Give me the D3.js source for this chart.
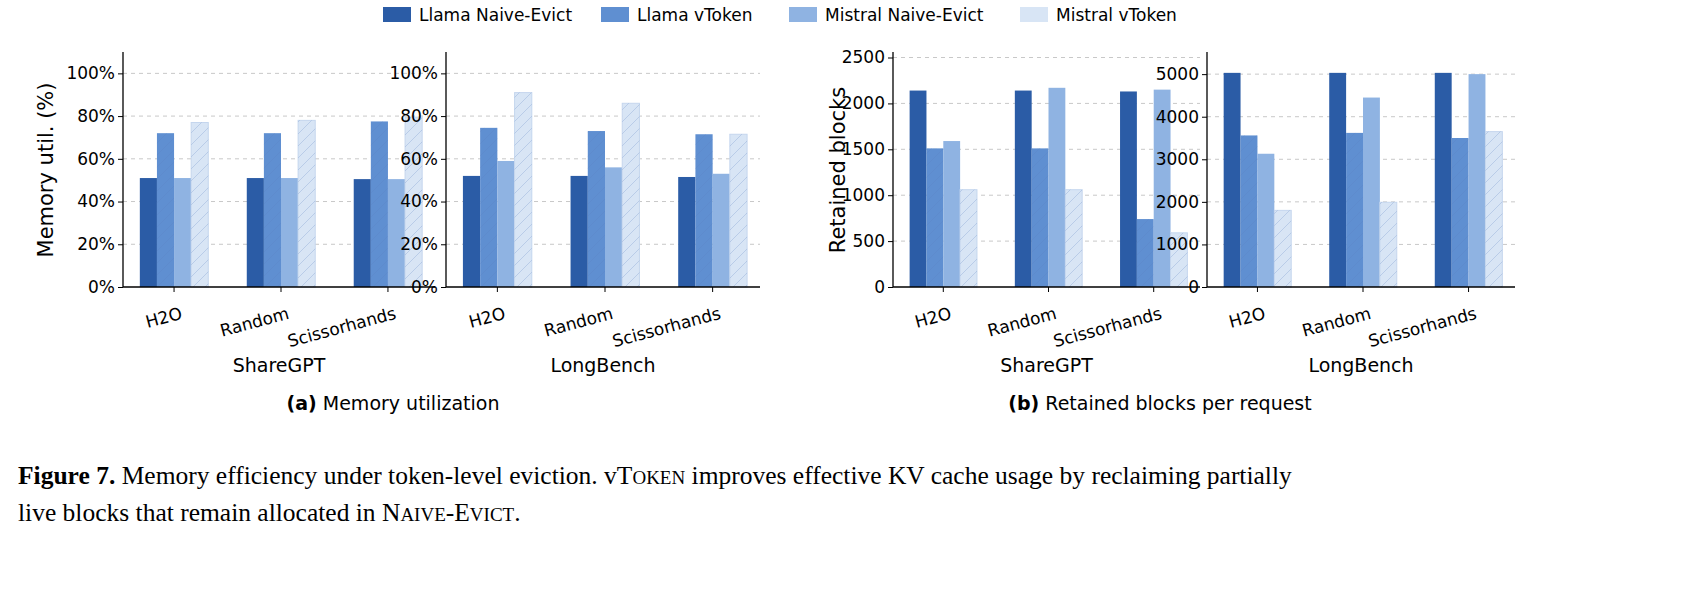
<!DOCTYPE html><html><head><meta charset="utf-8"><script src="https://cdn.jsdelivr.net/npm/d3@7"></script>
<style>body{margin:0;background:#fff}</style></head><body><svg id="c" width="1707" height="595"></svg>
<script>
const series=["Llama Naive-Evict","Llama vToken","Mistral Naive-Evict","Mistral vToken"];
const colors=["#2b5ca6","#5f8fd1","#8fb3e2","#d8e5f5"];
const methods=["H2O","Random","Scissorhands"];
const utilShare=[[51,51,50.5],[72,72,77.5],[51,51,50.5],[77,78,79.5]];
const utilLong=[[52,52,51.5],[74.5,73,71.5],[59,56,53],[91,86,71.5]];
const blkShare=[[2140,2140,2130],[1510,1510,740],[1590,2170,2150],[1060,1060,590]];
const blkLong=[[5030,5030,5030],[3560,3620,3500],[3130,4450,5000],[1800,1990,3650]];
const utilTicks=[0,20,40,60,80,100];
const shareTicks=[0,500,1000,1500,2000,2500];
const longTicks=[0,1000,2000,3000,4000,5000];

const svg=d3.select("#c");
const defs=svg.append("defs");
const pat=defs.append("pattern").attr("id","hatch").attr("patternUnits","userSpaceOnUse").attr("width",12).attr("height",12);
pat.append("path").attr("d","M0,12L12,0M-3,3L3,-3M9,15L15,9").attr("stroke","#5a7fc0").attr("stroke-opacity",0.25).attr("stroke-width",1);
const font="DejaVu Sans, sans-serif";

const lg=svg.append("g");
const lx=[383,601,789,1020];
series.forEach((s,i)=>{
 lg.append("rect").attr("x",lx[i]).attr("y",7).attr("width",28).attr("height",15).attr("fill",colors[i]);
 lg.append("text").attr("x",lx[i]+36).attr("y",21).text(s).attr("font-family",font).attr("font-size",17);
});

function panel(x0,x1,data,ymax,ticks,fmt,dataset){
 const top=52,bot=287;
 const x=d3.scaleBand().domain(methods).range([x0+4,x1]).paddingInner(0.36).paddingOuter(0.12);
 const y=d3.scaleLinear().domain([0,ymax]).range([bot,top]);
 const g=svg.append("g");
 g.selectAll(".grid").data(ticks.filter(t=>t>0)).join("line").attr("x1",x0).attr("x2",x1).attr("y1",d=>y(d)).attr("y2",d=>y(d)).attr("stroke","#c8c8c8").attr("stroke-dasharray","4,4");
 const bw=x.bandwidth()/4;
 series.forEach((s,si)=>{
  methods.forEach((m,mi)=>{
   const v=data[si][mi];
   const r={x:x(m)+si*bw,y:y(v),w:bw,h:bot-y(v)};
   g.append("rect").attr("x",r.x).attr("y",r.y).attr("width",r.w).attr("height",r.h).attr("fill",colors[si]).attr("stroke",si==3?"#c5d6ee":"none");
   if(si%2==1) g.append("rect").attr("x",r.x).attr("y",r.y).attr("width",r.w).attr("height",r.h).attr("fill","url(#hatch)");
  });
 });
 const ax=g.append("g").attr("transform",`translate(${x0},0)`).call(d3.axisLeft(y).tickValues(ticks).tickFormat(fmt).tickSize(5));
 ax.select(".domain").attr("d",`M0,${top}V${bot}`).attr("stroke","#000").attr("stroke-width",1.3);
 ax.selectAll("text").attr("font-family",font).attr("font-size",17).attr("fill","#000");
 g.append("line").attr("x1",x0).attr("x2",x1).attr("y1",bot).attr("y2",bot).attr("stroke","#000").attr("stroke-width",1.3);
 methods.forEach(m=>{
  const cx=x(m)+x.bandwidth()/2;
  g.append("line").attr("x1",cx).attr("x2",cx).attr("y1",bot).attr("y2",bot+5).attr("stroke","#000");
  g.append("text").attr("transform",`translate(${cx+6},${bot+20}) rotate(-15)`).attr("text-anchor","end").attr("dy","0.7em").text(m).attr("font-family",font).attr("font-size",17);
 });
 g.append("text").attr("x",(x0+x1)/2).attr("y",372).attr("text-anchor","middle").text(dataset).attr("font-family",font).attr("font-size",19);
}
panel(123,435,utilShare,110,utilTicks,d=>d+"%","ShareGPT");
panel(446,760,utilLong,110,utilTicks,d=>d+"%","LongBench");
panel(893,1200,blkShare,2560,shareTicks,d=>d,"ShareGPT");
panel(1207,1515,blkLong,5520,longTicks,d=>d,"LongBench");
svg.append("text").attr("transform","translate(53,170) rotate(-90)").attr("text-anchor","middle").text("Memory util. (%)").attr("font-family",font).attr("font-size",21);
svg.append("text").attr("transform","translate(845,170) rotate(-90)").attr("text-anchor","middle").text("Retained blocks").attr("font-family",font).attr("font-size",21);
const sc=svg.append("text").attr("x",393).attr("y",410).attr("text-anchor","middle").attr("font-family",font).attr("font-size",19);
sc.append("tspan").attr("font-weight","bold").text("(a)");sc.append("tspan").text(" Memory utilization");
const sc2=svg.append("text").attr("x",1160).attr("y",410).attr("text-anchor","middle").attr("font-family",font).attr("font-size",19);
sc2.append("tspan").attr("font-weight","bold").text("(b)");sc2.append("tspan").text(" Retained blocks per request");
const serif="Liberation Serif, serif";
const c1=svg.append("text").attr("x",18).attr("y",484).attr("font-family",serif).attr("font-size",25.5);
c1.append("tspan").attr("font-weight","bold").text("Figure 7.");
c1.append("tspan").text(" Memory efficiency under token-level eviction. vT");
c1.append("tspan").attr("font-size",19).text("OKEN");
c1.append("tspan").text(" improves effective KV cache usage by reclaiming partially");
const c2=svg.append("text").attr("x",18).attr("y",521).attr("font-family",serif).attr("font-size",25.5);
c2.append("tspan").text("live blocks that remain allocated in N");
c2.append("tspan").attr("font-size",19).text("AIVE");
c2.append("tspan").text("-E");
c2.append("tspan").attr("font-size",19).text("VICT");
c2.append("tspan").text(".");
</script></body></html>
